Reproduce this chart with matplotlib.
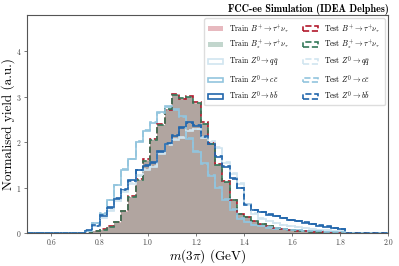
import numpy as np
import matplotlib
matplotlib.use("Agg")
import matplotlib.pyplot as plt

# binning: 50 bins of 0.03 GeV between 0.5 and 2.0
edges = np.linspace(0.5, 2.0, 51)
centres = 0.5 * (edges[1:] + edges[:-1])

lead = [0.0] * 8      # 0.50 - 0.74
trail = [0.0] * 6     # 1.82 - 2.00

# normalised yields, bins 0.74 ... 1.82
train_bp = [0.01, 0.04, 0.08, 0.14, 0.24, 0.48, 0.80, 1.18, 1.60, 2.05, 2.38, 2.72,
            3.04, 2.97, 3.00, 2.86, 2.42, 1.97, 1.50, 1.13, 0.75, 0.42, 0.36, 0.27,
            0.20, 0.15, 0.12, 0.09, 0.07, 0.05, 0.04, 0.03, 0.02, 0.015, 0.01, 0.01]
test_bp = [0.01, 0.04, 0.09, 0.15, 0.25, 0.49, 0.81, 1.19, 1.63, 2.06, 2.39, 2.71,
           3.05, 2.95, 3.02, 2.88, 2.45, 1.98, 1.52, 1.15, 0.74, 0.43, 0.35, 0.28,
           0.21, 0.15, 0.12, 0.10, 0.07, 0.05, 0.04, 0.03, 0.02, 0.015, 0.01, 0.01]
train_bs = [0.01, 0.04, 0.08, 0.13, 0.23, 0.47, 0.79, 1.17, 1.58, 2.04, 2.37, 2.73,
            3.03, 2.98, 2.99, 2.84, 2.40, 1.96, 1.49, 1.12, 0.74, 0.41, 0.35, 0.27,
            0.20, 0.15, 0.11, 0.09, 0.07, 0.05, 0.04, 0.03, 0.02, 0.015, 0.01, 0.01]
test_bs = [0.01, 0.04, 0.08, 0.14, 0.24, 0.48, 0.80, 1.18, 1.59, 2.05, 2.38, 2.72,
           3.04, 2.96, 3.00, 2.85, 2.41, 1.97, 1.50, 1.13, 0.74, 0.42, 0.36, 0.27,
           0.20, 0.15, 0.12, 0.09, 0.07, 0.05, 0.04, 0.03, 0.02, 0.015, 0.01, 0.01]
train_qq = [0.05, 0.15, 0.33, 0.50, 0.70, 0.90, 1.08, 1.25, 1.40, 1.45, 1.75, 1.95,
            2.05, 2.10, 2.25, 2.30, 2.10, 2.00, 1.88, 1.55, 1.30, 1.08, 0.62, 0.42,
            0.32, 0.26, 0.22, 0.18, 0.15, 0.13, 0.11, 0.10, 0.08, 0.07, 0.06, 0.05]
test_qq = [0.06, 0.16, 0.34, 0.52, 0.71, 0.92, 1.10, 1.27, 1.42, 1.47, 1.77, 1.93,
           2.07, 2.12, 2.27, 2.28, 2.12, 2.02, 1.90, 1.57, 1.33, 1.10, 0.64, 0.44,
           0.33, 0.27, 0.22, 0.19, 0.16, 0.13, 0.11, 0.10, 0.08, 0.07, 0.06, 0.05]
train_cc = [0.05, 0.22, 0.42, 0.72, 1.05, 1.40, 1.62, 2.00, 2.24, 2.42, 2.66, 2.79,
            2.70, 2.57, 2.08, 1.78, 1.55, 1.25, 1.00, 0.74, 0.52, 0.32, 0.24, 0.18,
            0.15, 0.12, 0.10, 0.09, 0.08, 0.07, 0.06, 0.05, 0.04, 0.03, 0.03, 0.02]
test_cc = [0.06, 0.23, 0.44, 0.74, 1.07, 1.42, 1.64, 2.02, 2.26, 2.44, 2.64, 2.77,
           2.72, 2.55, 2.10, 1.80, 1.53, 1.27, 1.02, 0.75, 0.53, 0.33, 0.25, 0.19,
           0.15, 0.13, 0.11, 0.09, 0.08, 0.07, 0.06, 0.05, 0.04, 0.03, 0.03, 0.02]
train_bb = [0.06, 0.17, 0.38, 0.55, 0.75, 0.95, 1.17, 1.38, 1.47, 1.55, 1.80, 1.97,
            2.13, 2.33, 2.45, 2.35, 2.12, 1.97, 1.68, 1.45, 1.22, 0.99, 0.64, 0.51,
            0.46, 0.41, 0.37, 0.33, 0.29, 0.26, 0.23, 0.20, 0.17, 0.14, 0.12, 0.10]
test_bb = [0.07, 0.18, 0.40, 0.57, 0.77, 0.97, 1.15, 1.40, 1.49, 1.57, 1.78, 1.99,
           2.15, 2.31, 2.43, 2.37, 2.14, 1.95, 1.70, 1.47, 1.20, 1.00, 0.63, 0.52,
           0.47, 0.42, 0.38, 0.34, 0.30, 0.27, 0.24, 0.21, 0.18, 0.15, 0.12, 0.10]

red = "#b2182b"
green = "#35795a"
c_qq = "#d1e5f0"
c_cc = "#92c5de"
c_bb = "#2166ac"

plt.rcParams["font.family"] = "cmr10"
plt.rcParams["mathtext.fontset"] = "cm"
plt.rcParams["axes.formatter.use_mathtext"] = True

fig = plt.figure(figsize=(3.99, 2.66), dpi=100)
ax = fig.add_axes([0.0684, 0.123, 0.905, 0.822])


def full(vals):
    return lead + vals + trail


# train samples
ax.hist(centres, bins=edges, weights=full(train_bp), histtype="stepfilled",
        color=red, alpha=0.3, label=r"Train $B^{+}\to\tau^{+}\nu_{\tau}$")
ax.hist(centres, bins=edges, weights=full(train_bs), histtype="stepfilled",
        color=green, alpha=0.3, label=r"Train $B_{s}^{+}\to\tau^{+}\nu_{\tau}$")
ax.hist(centres, bins=edges, weights=full(train_qq), histtype="step",
        color=c_qq, lw=1.2, label=r"Train $Z^{0}\to q\bar{q}$")
ax.hist(centres, bins=edges, weights=full(train_cc), histtype="step",
        color=c_cc, lw=1.2, label=r"Train $Z^{0}\to c\bar{c}$")
ax.hist(centres, bins=edges, weights=full(train_bb), histtype="step",
        color=c_bb, lw=1.2, label=r"Train $Z^{0}\to b\bar{b}$")

# test samples
ax.hist(centres, bins=edges, weights=full(test_bp), histtype="step",
        color=red, lw=1.2, ls="--", label=r"Test $B^{+}\to\tau^{+}\nu_{\tau}$")
ax.hist(centres, bins=edges, weights=full(test_bs), histtype="step",
        color=green, lw=1.2, ls="--", label=r"Test $B_{s}^{+}\to\tau^{+}\nu_{\tau}$")
ax.hist(centres, bins=edges, weights=full(test_qq), histtype="step",
        color=c_qq, lw=1.2, ls="--", label=r"Test $Z^{0}\to q\bar{q}$")
ax.hist(centres, bins=edges, weights=full(test_cc), histtype="step",
        color=c_cc, lw=1.2, ls="--", label=r"Test $Z^{0}\to c\bar{c}$")
ax.hist(centres, bins=edges, weights=full(test_bb), histtype="step",
        color=c_bb, lw=1.2, ls="--", label=r"Test $Z^{0}\to b\bar{b}$")

ax.set_xlim(0.5, 2.0)
ax.set_ylim(0, 4.8)
ax.set_yticks([0, 1, 2, 3, 4])
ax.set_xticks(np.arange(0.6, 2.01, 0.2))
ax.set_xticklabels(["0.6", "0.8", "1.0", "1.2", "1.4", "1.6", "1.8", "2.0"])
ax.tick_params(labelsize=5.5, length=2, width=0.5, colors="#444444", pad=2)
for s in ax.spines.values():
    s.set_color("#555555")
    s.set_linewidth(0.8)

ax.set_xlabel(r"$m(3\pi)$ (GeV)", fontsize=9.5, labelpad=0)
ax.set_ylabel("Normalised yield (a.u.)", fontsize=9.5, labelpad=1)
ax.set_title("FCC-ee Simulation (IDEA Delphes)", loc="right", fontsize=7.3,
             fontfamily="cmb10", pad=2)

ax.legend(ncol=2, loc="upper right", fontsize=5.5, frameon=True,
          edgecolor="#dddddd", framealpha=1, handlelength=2.0, handleheight=0.6,
          columnspacing=1.8, borderpad=0.5, labelspacing=0.45)

fig.savefig("out.png", dpi=100)
